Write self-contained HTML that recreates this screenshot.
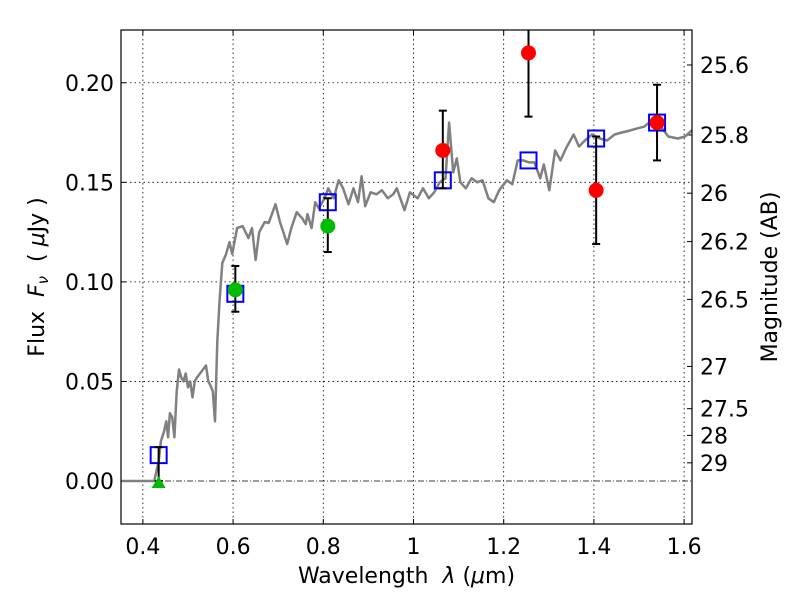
<!DOCTYPE html>
<html><head><meta charset="utf-8"><style>
body{margin:0;background:#fff;}
svg text{font-family:"DejaVu Sans","Liberation Sans",sans-serif;fill:#000;white-space:pre;}
</style></head><body>
<svg id="chart" width="800" height="600" xmlns="http://www.w3.org/2000/svg"></svg>
<script>
const xTicks=[0.4,0.6,0.8,1.0,1.2,1.4,1.6];
const xTickLabels=["0.4","0.6","0.8","1","1.2","1.4","1.6"];
const yTicks=[0,0.05,0.10,0.15,0.20];
const yTickLabels=["0.00","0.05","0.10","0.15","0.20"];
const magTicks=[25.6,25.8,26,26.2,26.5,27,27.5,28,29];
const magTickLabels=["25.6","25.8","26","26.2","26.5","27","27.5","28","29"];
const specWave=[0.35,0.425,0.435,0.44,0.447,0.452,0.456,0.46,0.465,0.47,0.475,0.48,0.485,0.49,0.495,0.50,0.505,0.51,0.515,0.52,0.53,0.54,0.545,0.55,0.555,0.56,0.565,0.57,0.576,0.584,0.592,0.598,0.609,0.621,0.634,0.642,0.650,0.658,0.670,0.679,0.694,0.704,0.720,0.729,0.741,0.753,0.761,0.765,0.774,0.782,0.790,0.803,0.811,0.823,0.834,0.844,0.856,0.867,0.877,0.885,0.893,0.905,0.918,0.930,0.943,0.955,0.963,0.980,0.992,1.009,1.021,1.034,1.046,1.058,1.071,1.079,1.088,1.096,1.104,1.116,1.129,1.141,1.153,1.166,1.178,1.190,1.207,1.219,1.231,1.244,1.256,1.268,1.281,1.289,1.301,1.314,1.326,1.338,1.355,1.367,1.380,1.396,1.413,1.429,1.446,1.462,1.479,1.495,1.512,1.528,1.545,1.565,1.586,1.602,1.622];
const specFlux=[0,0,0.01,0.02,0.025,0.03,0.022,0.034,0.032,0.022,0.045,0.056,0.052,0.05,0.054,0.047,0.05,0.042,0.05,0.052,0.055,0.058,0.05,0.048,0.045,0.03,0.07,0.09,0.1095,0.1137,0.120,0.114,0.127,0.128,0.122,0.127,0.111,0.125,0.130,0.1296,0.139,0.130,0.119,0.127,0.135,0.132,0.129,0.134,0.127,0.140,0.137,0.142,0.147,0.142,0.151,0.147,0.139,0.147,0.140,0.153,0.138,0.145,0.144,0.146,0.142,0.144,0.147,0.136,0.145,0.142,0.147,0.142,0.145,0.150,0.152,0.180,0.155,0.162,0.150,0.147,0.152,0.150,0.151,0.142,0.140,0.146,0.151,0.149,0.161,0.161,0.160,0.160,0.152,0.159,0.146,0.166,0.161,0.167,0.174,0.168,0.171,0.174,0.172,0.171,0.174,0.175,0.176,0.177,0.178,0.181,0.179,0.173,0.172,0.173,0.177];
const modelWave=[0.435,0.605,0.81,1.065,1.255,1.405,1.54];
const modelFlux=[0.013,0.094,0.140,0.151,0.161,0.172,0.180];
const greenWave=[0.605,0.81];
const greenFlux=[0.096,0.128];
const greenLo=[0.085,0.115];
const greenHi=[0.108,0.142];
const redWave=[1.065,1.255,1.405,1.54];
const redFlux=[0.166,0.215,0.146,0.180];
const redLo=[0.147,0.183,0.119,0.161];
const redHi=[0.186,0.232,0.173,0.199];
const limitWave=[0.435];
const limitFlux=[0.0];
const limitHi=[0.017];

const L=121,R=692,T=30,B=524;
const xmin=0.3515,xmax=1.6175,ymin=-0.0216,ymax=0.2265;
const X=v=>L+(v-xmin)/(xmax-xmin)*(R-L);
const Y=v=>B-(v-ymin)/(ymax-ymin)*(B-T);
const magToFlux=m=>Math.pow(10,(23.9-m)/2.5);
const svg=document.getElementById('chart');
const NS="http://www.w3.org/2000/svg";
function mk(tag,attrs,parent){const e=document.createElementNS(NS,tag);for(const k in attrs)e.setAttribute(k,attrs[k]);(parent||svg).appendChild(e);return e;}
const FS=22;

const defs=mk('defs',{});const cp=mk('clipPath',{id:'clip'},defs);mk('rect',{x:L,y:T,width:R-L,height:B-T},cp);

xTicks.forEach((t,i)=>{
 const g=mk('line',{x1:X(t),x2:X(t),y1:T,y2:B,stroke:'#000','stroke-width':0.8,'stroke-dasharray':'1.5,3'});
 
 
 mk('line',{x1:X(t),x2:X(t),y1:B,y2:B-5,stroke:'#000'});
 mk('line',{x1:X(t),x2:X(t),y1:T,y2:T+5,stroke:'#000'});
 const tx=mk('text',{x:X(t),y:B+30,'text-anchor':'middle','font-size':FS});
 tx.textContent=xTickLabels[i];
 
 
});
yTicks.forEach((t,i)=>{
 if(t!==0){const g=mk('line',{x1:L,x2:R,y1:Y(t),y2:Y(t),stroke:'#000','stroke-width':0.8,'stroke-dasharray':'1.5,3'});
 
 }
 mk('line',{x1:L,x2:L+5,y1:Y(t),y2:Y(t),stroke:'#000'});
 const tx=mk('text',{x:L-7,y:Y(t)+8,'text-anchor':'end','font-size':FS});
 tx.textContent=yTickLabels[i];
 
 
});
const z=mk('line',{x1:L,x2:R,y1:Y(0),y2:Y(0),stroke:'#000','stroke-width':0.8,'stroke-dasharray':'6,2,1,2'});


magTicks.forEach((m,i)=>{
 const y=Y(magToFlux(m));
 mk('line',{x1:R,x2:R-5,y1:y,y2:y,stroke:'#000'});
 const tx=mk('text',{x:R+8,y:y+8,'font-size':FS});
 tx.textContent=magTickLabels[i];
 
 
});

const plot=mk('g',{'clip-path':'url(#clip)'});
let d='';specWave.forEach((w,i)=>{d+=(i?'L':'M')+X(w).toFixed(1)+','+Y(specFlux[i]).toFixed(1);});
const sp=mk('path',{d:d,fill:'none',stroke:'#808080','stroke-width':2.5,'stroke-linejoin':'round'},plot);



function errbar(w,lo,hi){
 const x=X(w);
 mk('line',{x1:x,x2:x,y1:Y(lo),y2:Y(hi),stroke:'#000','stroke-width':2},plot);
 mk('line',{x1:x-4,x2:x+4,y1:Y(lo),y2:Y(lo),stroke:'#000','stroke-width':2},plot);
 mk('line',{x1:x-4,x2:x+4,y1:Y(hi),y2:Y(hi),stroke:'#000','stroke-width':2},plot);
}
modelWave.forEach((w,i)=>{
 const r=mk('rect',{x:X(w)-8,y:Y(modelFlux[i])-8,width:16,height:16,fill:'none',stroke:'#0000ff','stroke-width':2},plot);
 
 
});
limitWave.forEach((w,i)=>{
 errbar(w,limitFlux[i],limitHi[i]);
 const x=X(w),y=Y(limitFlux[i]);
 const p=mk('polygon',{points:`${x-7},${y+7} ${x+7},${y+7} ${x},${y-5}`,fill:'#00bb00'},plot);
 
 
});
greenWave.forEach((w,i)=>{
 errbar(w,greenLo[i],greenHi[i]);
 const c=mk('circle',{cx:X(w),cy:Y(greenFlux[i]),r:7.5,fill:'#00bb00'},plot);
 
 
});
redWave.forEach((w,i)=>{
 errbar(w,redLo[i],redHi[i]);
 const c=mk('circle',{cx:X(w),cy:Y(redFlux[i]),r:7.5,fill:'#ff0000'},plot);
 
 
});
const fr=mk('rect',{x:L,y:T,width:R-L,height:B-T,fill:'none',stroke:'#000','stroke-width':1.2});


const xl=mk('text',{x:(L+R)/2,y:583,'text-anchor':'middle','font-size':FS});
xl.innerHTML='Wavelength  <tspan font-style="italic">λ</tspan> (<tspan font-style="italic">μ</tspan>m)';


const yl=mk('text',{x:0,y:0,'text-anchor':'middle','font-size':FS,transform:`translate(44,${(T+B)/2}) rotate(-90)`});
yl.innerHTML='Flux  <tspan font-style="italic">F</tspan><tspan font-style="italic" font-size="15" dy="4">ν</tspan><tspan dy="-4">  ( </tspan><tspan font-style="italic">μ</tspan>Jy )';


const rl=mk('text',{x:0,y:0,'text-anchor':'middle','font-size':FS,transform:`translate(777,${(T+B)/2}) rotate(-90)`});
rl.textContent='Magnitude (AB)';


</script>
</body></html>
